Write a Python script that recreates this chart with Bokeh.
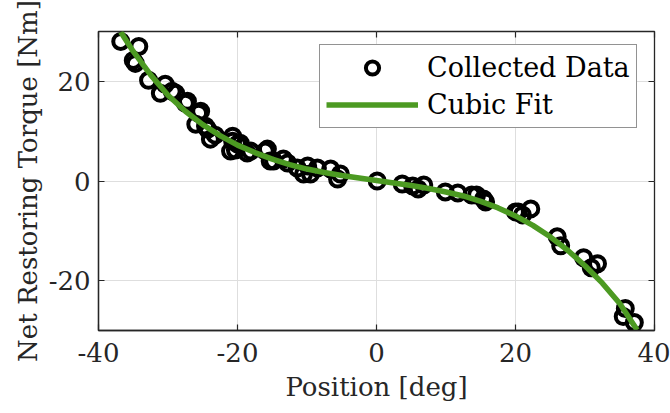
from bokeh.plotting import figure
from bokeh.models import FixedTicker, LinearAxis, ColumnDataSource, Legend, LegendItem
from bokeh.embed import file_html
from bokeh.resources import INLINE

# Collected data (position in deg, torque in Nm)
data_x = [-36.8, -34.2, -35.0, -34.7, -32.8, -30.4, -31.1, -29.4, -28.9, -27.5,
          -27.2, -25.6, -25.3, -26.0, -24.6, -24.3, -23.9, -23.2, -20.7, -20.7,
          -20.3, -20.0, -19.6, -21.0, -18.6, -18.1, -16.0, -15.7, -15.3, -14.8,
          -13.4, -12.8, -11.4, -9.9, -9.5, -10.5, -8.5, -6.6, -5.2, -5.6,
          0.1, 3.7, 5.2, 6.0, 6.8, 9.9, 11.7, 13.7, 14.4,
          15.7, 15.4, 20.0, 20.4, 21.0, 22.2, 26.0, 26.5, 29.8, 30.9, 31.8, 35.8,
          35.5, 37.1]
data_y = [28.0, 27.0, 24.2, 23.6, 20.2, 19.4, 17.6, 18.0, 17.6, 15.6,
          16.0, 13.6, 14.0, 11.4, 11.0, 10.4, 8.4, 9.2, 8.0, 9.0,
          6.2, 7.4, 7.6, 6.0, 5.6, 6.0, 6.0, 6.4, 4.0, 4.0,
          4.4, 3.6, 2.6, 3.0, 1.4, 1.4, 2.6, 2.4, 1.4, 0.4,
          0.0, -0.6, -1.0, -1.6, -0.8, -2.2, -2.4, -2.8, -2.8,
          -4.2, -3.6, -6.2, -6.2, -6.8, -5.6, -11.2, -13.0, -15.4, -17.4, -16.6, -25.6,
          -27.2, -28.4]

# Cubic fit curve
fit_x = [-36.8, -35.0, -32.5, -30.0, -27.5, -25.0, -22.5, -20.0, -17.5, -15.0,
         -12.5, -10.0, -7.5, -5.0, -2.5, 0.0, 2.5, 5.0, 7.5, 10.0, 12.5, 15.0,
         17.5, 20.0, 22.5, 25.0, 27.5, 30.0, 32.5, 35.0, 37.5]
fit_y = [29.9, 26.0, 21.3, 17.2, 14.0, 11.3, 9.1, 7.2, 5.7, 4.4,
         3.3, 2.4, 1.7, 1.1, 0.6, 0.1, -0.4, -0.9, -1.5, -2.2, -3.0, -4.1,
         -5.4, -7.0, -8.9, -11.2, -13.9, -17.0, -20.5, -24.6, -29.9]

x_ticks = [-40, -20, 0, 20, 40]
x_tick_labels = ["-40", "-20", "0", "20", "40"]
y_ticks = [-20, 0, 20]
y_tick_labels = ["-20", "0", "20"]

FONT = "DejaVu Serif"
DARK = "#262626"
GREEN = "#4C9A22"

p = figure(width=670, height=413, output_backend="svg", toolbar_location=None,
           x_range=(-40, 40), y_range=(-30, 30),
           min_border_left=98, min_border_right=16, min_border_top=31,
           min_border_bottom=83, background_fill_color="white",
           border_fill_color="white")

p.outline_line_color = DARK
p.outline_line_width = 1.3

for ax in (p.xaxis[0], p.yaxis[0]):
    ax.major_tick_in = 6
    ax.major_tick_out = 0
    ax.minor_tick_in = 0
    ax.minor_tick_out = 0
    ax.axis_line_color = DARK
    ax.axis_line_width = 1.3
    ax.major_tick_line_color = DARK
    ax.major_tick_line_width = 1.2
    ax.major_label_text_font = FONT
    ax.major_label_text_font_size = "26px"
    ax.major_label_text_color = DARK
    ax.axis_label_text_font = FONT
    ax.axis_label_text_font_size = "26px"
    ax.axis_label_text_font_style = "normal"
    ax.axis_label_text_color = DARK

p.xaxis[0].ticker = FixedTicker(ticks=x_ticks)
p.yaxis[0].ticker = FixedTicker(ticks=y_ticks)
p.xaxis[0].major_label_overrides = dict(zip(x_ticks, x_tick_labels))
p.yaxis[0].major_label_overrides = dict(zip(y_ticks, y_tick_labels))
p.xaxis[0].axis_label = "Position [deg]"
p.yaxis[0].axis_label = "Net Restoring Torque [Nm]"
p.xaxis[0].major_label_standoff = 12
p.yaxis[0].major_label_standoff = 8
p.xaxis[0].axis_label_standoff = 7
p.yaxis[0].axis_label_standoff = 3

# Mirror ticks on top and right (box on), labels not painted
top = LinearAxis(ticker=FixedTicker(ticks=x_ticks), major_label_text_color=None,
                 major_label_text_font_size="1px",
                 major_tick_in=6, major_tick_out=0, minor_tick_in=0, minor_tick_out=0,
                 axis_line_color=None, major_tick_line_color=DARK, major_tick_line_width=1.2,
                 major_label_standoff=0)
right = LinearAxis(ticker=FixedTicker(ticks=y_ticks), major_label_text_color=None,
                   major_label_text_font_size="1px",
                   major_tick_in=6, major_tick_out=0, minor_tick_in=0, minor_tick_out=0,
                   axis_line_color=None, major_tick_line_color=DARK, major_tick_line_width=1.2,
                   major_label_standoff=0)
p.add_layout(top, "above")
p.add_layout(right, "right")

p.grid.grid_line_color = "#dedede"
p.grid.grid_line_width = 1
p.xgrid.ticker = FixedTicker(ticks=x_ticks)
p.ygrid.ticker = FixedTicker(ticks=y_ticks)

src = ColumnDataSource(dict(x=data_x, y=data_y))
pts = p.scatter("x", "y", source=src, size=15, marker="circle",
                fill_color=None, line_color="black", line_width=4)
fit = p.line(fit_x, fit_y, line_color=GREEN, line_width=5.5)

legend = Legend(items=[LegendItem(label="Collected Data", renderers=[pts]),
                       LegendItem(label="Cubic Fit", renderers=[fit])],
                location=(221, 202), margin=0, padding=6, spacing=4,
                glyph_width=92, glyph_height=33, label_height=33,
                label_standoff=9,
                label_text_font=FONT, label_text_font_size="27px",
                label_text_color="black",
                border_line_color=DARK, border_line_width=1.5,
                background_fill_color="white", background_fill_alpha=1)
p.add_layout(legend, "center")

open("out.html", "w").write(file_html(p, INLINE))
